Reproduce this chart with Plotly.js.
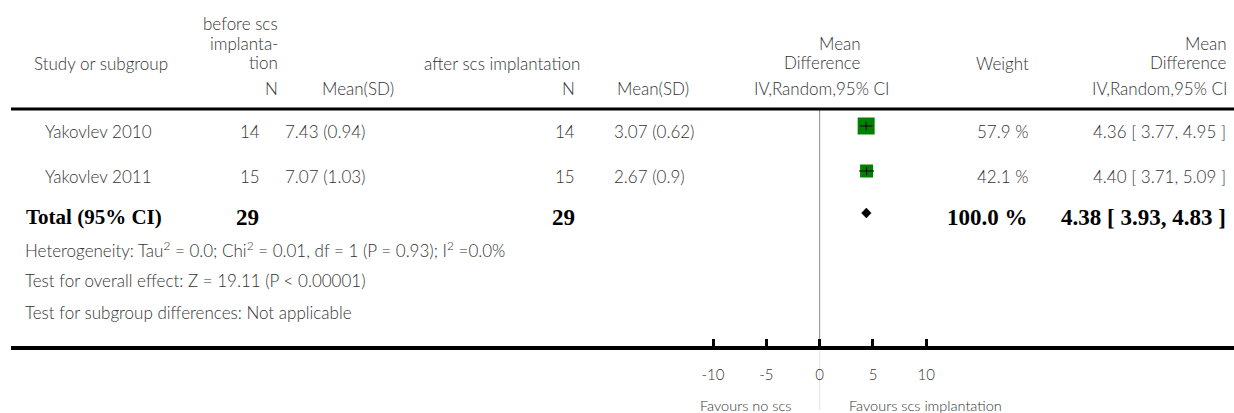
<!DOCTYPE html>
<html>
<head>
<meta charset="utf-8">
<script src="https://cdn.plot.ly/plotly-3.0.1.min.js"></script>
<style>html,body{margin:0;padding:0;background:#fff;}#chart{width:1234px;height:413px;}</style>
</head>
<body>
<div id="chart"></div>
<script>
// ---- data ----
const studies = ['Yakovlev 2010', 'Yakovlev 2011'];
const nBefore = [14, 15];
const meanBefore = [7.43, 7.07];
const sdBefore = [0.94, 1.03];
const nAfter = [14, 15];
const meanAfter = [3.07, 2.67];
const sdAfter = [0.62, 0.9];
const md = [4.36, 4.40];
const mdLow = [3.77, 3.71];
const mdHigh = [4.95, 5.09];
const weights = [57.9, 42.1];
const totalLabel = 'Total (95% CI)';
const totalBefore = 29;
const totalAfter = 29;
const totalMd = 4.38;
const totalLow = 3.93;
const totalHigh = 4.83;
const totalWeight = 100.0;
const statLines = [
  'Heterogeneity: Tau<sup>2</sup> = 0.0; Chi<sup>2</sup> = 0.01, df = 1 (P = 0.93); I<sup>2</sup> =0.0%',
  'Test for overall effect: Z = 19.11 (P < 0.00001)',
  'Test for subgroup differences: Not applicable'
];
const tickVals = [-10, -5, 0, 5, 10];
const tickText = ['-10', '-5', '0', '5', '10'];
const favLeft = 'Favours no scs';
const favRight = 'Favours scs implantation';

// ---- layout helpers ----
const W = 1234, H = 413, L = 11;
const ZERO_PX = 819.65, PX_PER_UNIT = 10.665;
const xr = [(L - ZERO_PX) / PX_PER_UNIT, (W - ZERO_PX) / PX_PER_UNIT];
function px(x) { return (x - L) / (W - L); }
const SANS = 'Lato, "Open Sans", sans-serif';
const SERIF = '"Liberation Serif", "DejaVu Serif", serif';
const TXT = '#333333';
const annotations = [];
function ann(text, x, y, anchor, font) {
  annotations.push({
    text: text, x: px(x), y: y, xref: 'paper', yref: 'y',
    xanchor: anchor, yanchor: 'middle', showarrow: false, align: anchor,
    font: Object.assign({family: SANS, size: 17, color: TXT, weight: 300}, font || {})
  });
}
const fmt2 = v => v.toFixed(2);
const ciText = (m, lo, hi) => fmt2(m) + ' [ ' + fmt2(lo) + ', ' + fmt2(hi) + ' ]';

// header
ann('before scs', 280, 23, 'right');
ann('implanta-', 280, 43, 'right');
ann('tion', 280, 62, 'right');
ann('Study or subgroup', 32, 63, 'left');
ann('after scs implantation', 422, 63, 'left');
ann('Mean', 863, 43, 'right');
ann('Difference', 863, 62, 'right');
ann('Weight', 1031, 63, 'right');
ann('Mean', 1229, 43, 'right');
ann('Difference', 1229, 62, 'right');
ann('N', 280, 88, 'right');
ann('Mean(SD)', 320, 88, 'left');
ann('N', 577, 88, 'right');
ann('Mean(SD)', 615, 88, 'left');
ann('IV,Random,95% CI', 821, 88, 'center');
ann('IV,Random,95% CI', 1229, 88, 'right');

// study rows
const textY = [131, 176];
const markY = [126, 171];
studies.forEach((s, i) => {
  const y = textY[i];
  ann(s, 43, y, 'left');
  ann(String(nBefore[i]), 262, y, 'right');
  ann(meanBefore[i] + ' (' + sdBefore[i] + ')', 283, y, 'left');
  ann(String(nAfter[i]), 577, y, 'right');
  ann(meanAfter[i] + ' (' + sdAfter[i] + ')', 612, y, 'left');
  ann(weights[i].toFixed(1) + ' %', 1030, y, 'right');
  ann(ciText(md[i], mdLow[i], mdHigh[i]), 1228, y, 'right');
});

// total row
const totY = 217, diaY = 213;
const boldLabel = {family: SERIF, size: 21, color: '#000', weight: 400};
const boldNum = {family: SERIF, size: 23, color: '#000', weight: 400};
ann('<b>' + totalLabel + '</b>', 24, totY, 'left', boldLabel);
ann('<b>' + totalBefore + '</b>', 261, totY, 'right', boldNum);
ann('<b>' + totalAfter + '</b>', 577, totY, 'right', boldNum);
ann('<b>' + totalWeight.toFixed(1) + ' %</b>', 1030, totY, 'right', boldNum);
ann('<b>' + ciText(totalMd, totalLow, totalHigh) + '</b>', 1228, totY, 'right', boldNum);

// stats
const statY = [249, 280, 312];
statLines.forEach((t, i) => ann(t, 23, statY[i], 'left'));

// favours
ann(favLeft, 793, 405, 'right', {size: 14.5});
ann(favRight, 847, 405, 'left', {size: 14.5});

// ---- traces ----
const traces = [];
// squares sized by weight
traces.push({
  type: 'scatter', mode: 'markers', x: md, y: markY,
  marker: {symbol: 'square', color: '#008000', opacity: 1, size: weights.map(w => 2.34 + 0.253 * w), line: {width: 0}},
  hoverinfo: 'skip', showlegend: false
});
// CI lines
md.forEach((m, i) => {
  traces.push({
    type: 'scatter', mode: 'lines', x: [mdLow[i], mdHigh[i]], y: [markY[i], markY[i]],
    line: {color: '#1a1a1a', width: 1.3}, hoverinfo: 'skip', showlegend: false
  });
});
// centre ticks
traces.push({
  type: 'scatter', mode: 'markers', x: md, y: markY,
  marker: {symbol: 'line-ns', size: 6, opacity: 1, line: {color: '#000', width: 1}},
  hoverinfo: 'skip', showlegend: false
});
// diamond
traces.push({
  type: 'scatter', mode: 'lines', fill: 'toself', fillcolor: '#000',
  x: [totalLow, totalMd, totalHigh, totalMd, totalLow],
  y: [diaY, diaY - 5, diaY, diaY + 5, diaY],
  line: {color: '#000', width: 0.5}, hoverinfo: 'skip', showlegend: false
});

const layout = {
  width: W, height: H,
  margin: {l: L, r: 0, t: 0, b: 0, pad: 0},
  paper_bgcolor: '#fff', plot_bgcolor: 'rgba(0,0,0,0)',
  showlegend: false,
  xaxis: {
    range: xr, domain: [0, 1], anchor: 'free', position: (H - 348) / H,
    tickmode: 'array', tickvals: tickVals, ticktext: tickText,
    ticks: 'inside', ticklen: 7, tickwidth: 3, tickcolor: '#000',
    showline: true, linewidth: 4, linecolor: '#000',
    showgrid: false, zeroline: false, ticklabelstandoff: 12,
    tickfont: {family: SANS, size: 15, color: '#333', weight: 300}, fixedrange: true
  },
  yaxis: {range: [H, 0], domain: [0, 1], visible: false, fixedrange: true},
  shapes: [
    {type: 'line', xref: 'paper', yref: 'y', x0: 0, x1: 1, y0: 109, y1: 109, line: {color: '#000', width: 3}},
    {type: 'line', xref: 'x', yref: 'y', x0: 0, x1: 0, y0: 110, y1: 346, line: {color: '#8c8c8c', width: 1}, layer: 'below'},
    {type: 'line', xref: 'x', yref: 'y', x0: 0, x1: 0, y0: 351, y1: 410, line: {color: '#e3e3e3', width: 1}, layer: 'below'}
  ],
  annotations: annotations
};

Plotly.newPlot('chart', traces, layout, {staticPlot: true, displayModeBar: false});
</script>
</body>
</html>
